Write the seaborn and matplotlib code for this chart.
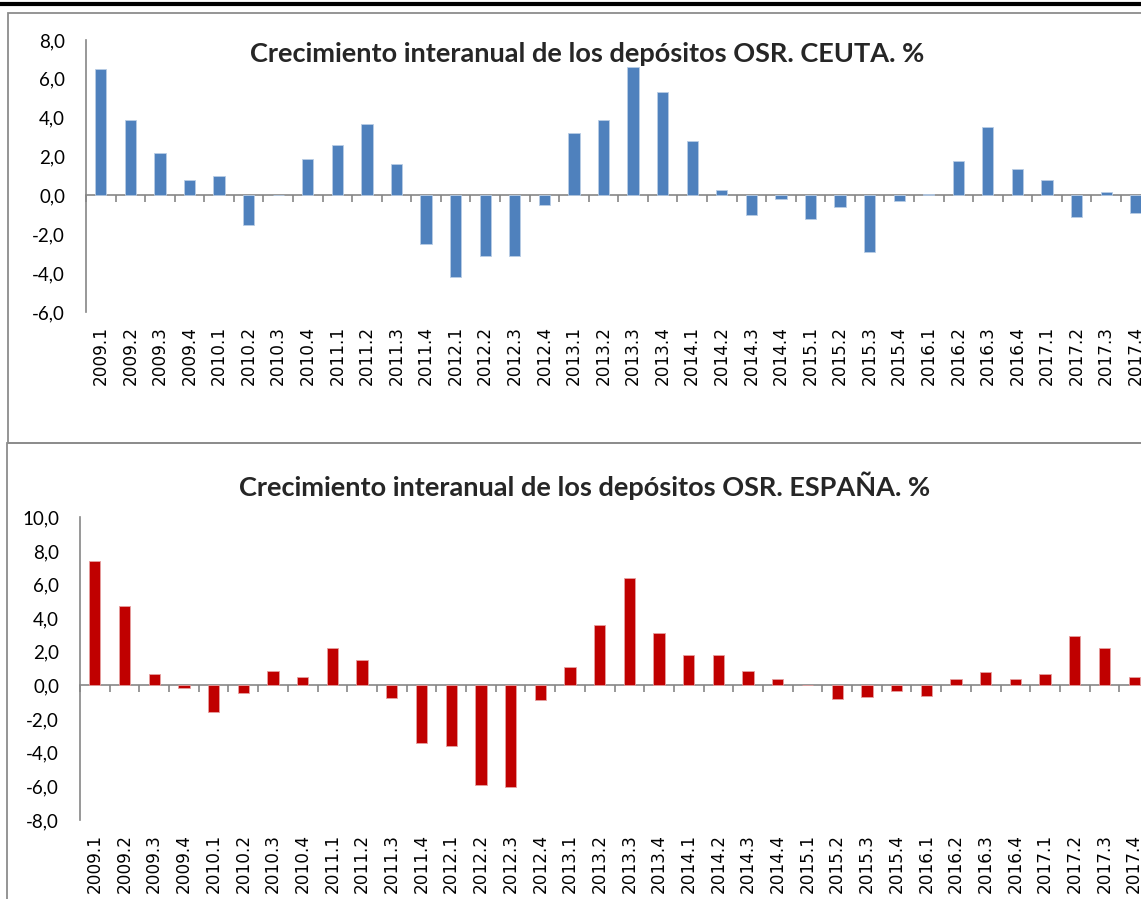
import numpy as np
import pandas as pd
import matplotlib
matplotlib.use("Agg")
import matplotlib.pyplot as plt
import seaborn as sns
from matplotlib.patches import Rectangle
from matplotlib.lines import Line2D
from matplotlib.ticker import FuncFormatter, MultipleLocator, FixedLocator

# Trimestres 2009.1 - 2017.4
trimestres = [f"{a}.{t}" for a in range(2009, 2018) for t in range(1, 5)]

ceuta = [6.5, 3.9, 2.2, 0.8, 1.0, -1.5, 0.0, 1.9,
         2.6, 3.7, 1.6, -2.5, -4.2, -3.1, -3.1, -0.5,
         3.2, 3.9, 6.6, 5.3, 2.8, 0.3, -1.0, -0.2,
         -1.2, -0.6, -2.9, -0.3, 0.05, 1.75, 3.5, 1.35,
         0.8, -1.1, 0.2, -0.9]

espana = [7.4, 4.75, 0.7, -0.15, -1.55, -0.45, 0.85, 0.5,
          2.25, 1.5, -0.75, -3.4, -3.6, -5.9, -6.05, -0.85,
          1.1, 3.6, 6.4, 3.1, 1.8, 1.8, 0.85, 0.4,
          0.0, -0.8, -0.7, -0.35, -0.65, 0.4, 0.8, 0.4,
          0.7, 2.95, 2.25, 0.5]

titulo_ceuta = "Crecimiento interanual de los depósitos OSR. CEUTA. %"
titulo_espana = "Crecimiento interanual de los depósitos OSR. ESPAÑA. %"

W, H = 1141, 899
GRIS = "#868686"


def px(x0, y0, x1, y1):
    """Caja en pixeles (arriba-izquierda) -> coordenadas de figura"""
    return [x0 / W, 1 - y1 / H, (x1 - x0) / W, (y1 - y0) / H]


def coma(v, _):
    return f"{v:.1f}".replace(".", ",")


def dibujar(ax, valores, color, borde, ylim, paso):
    df = pd.DataFrame({"trimestre": trimestres, "valor": valores})
    sns.barplot(data=df, x="trimestre", y="valor", color=color, saturation=1,
                width=0.38, edgecolor=borde, linewidth=0.6, ax=ax)
    ax.set_xlim(-0.5, len(trimestres) - 0.5)
    ax.set_ylim(*ylim)
    ax.set_xlabel("")
    ax.set_ylabel("")
    ax.yaxis.set_major_locator(MultipleLocator(paso))
    ax.yaxis.set_major_formatter(FuncFormatter(coma))

    for lado in ["top", "right", "bottom"]:
        ax.spines[lado].set_visible(False)
    ax.spines["left"].set_color(GRIS)
    ax.spines["left"].set_linewidth(1.2)

    ax.tick_params(axis="y", direction="out", length=4, width=1.2, color=GRIS,
                   pad=11, labelsize=13.5, labelcolor="black")
    ax.tick_params(axis="x", length=0, pad=10, labelsize=12.2, labelcolor="black")
    for lab in ax.get_xticklabels():
        lab.set_rotation(90)
        lab.set_family("DejaVu Sans")
        lab.set_va("top")
    for lab in ax.get_yticklabels():
        lab.set_family("Lato")

    # eje horizontal en el cero con marcas entre categorias
    pos0 = (0 - ylim[0]) / (ylim[1] - ylim[0])
    sec = ax.secondary_xaxis(pos0)
    sec.spines["bottom"].set_color(GRIS)
    sec.spines["bottom"].set_linewidth(1.2)
    sec.xaxis.set_major_locator(FixedLocator(np.arange(len(trimestres) + 1) - 0.5))
    sec.tick_params(axis="x", direction="out", length=5, width=1.2, color=GRIS,
                    labelbottom=False)


def main():
    sns.set_style("white")
    plt.rcParams["font.family"] = ["Lato", "DejaVu Sans"]

    fig = plt.figure(figsize=(W / 100, H / 100), dpi=100)

    # linea negra superior y marcos de los graficos
    fig.add_artist(Line2D([0, 1], [1 - 3.5 / H] * 2, color="black", lw=3))
    fig.add_artist(Rectangle((8 / W, 1 - 443 / H), 1.2, (443 - 13) / H,
                             transform=fig.transFigure, fill=False,
                             edgecolor="#8C8C8C", lw=1.3, clip_on=False))
    fig.add_artist(Rectangle((7 / W, -0.2), 1.2, 0.2 + 1 - 443 / H,
                             transform=fig.transFigure, fill=False,
                             edgecolor="#8C8C8C", lw=1.3, clip_on=False))

    ax1 = fig.add_axes(px(86, 40, 1150.5, 312))
    dibujar(ax1, ceuta, "#4F81BD", "#B9CDE5", (-6, 8), 2)
    fig.text(587 / W, 1 - 54 / H, titulo_ceuta, ha="center", va="center",
             fontsize=19.5, fontweight="bold", family="Lato")

    ax2 = fig.add_axes(px(80, 517.3, 1149, 820))
    dibujar(ax2, espana, "#C00000", "#E6A0A0", (-8, 10), 2)
    fig.text(585 / W, 1 - 486 / H, titulo_espana, ha="center", va="center",
             fontsize=19.5, fontweight="bold", family="Lato")

    fig.savefig("out.png", dpi=100)
    plt.close(fig)


if __name__ == "__main__":
    main()
